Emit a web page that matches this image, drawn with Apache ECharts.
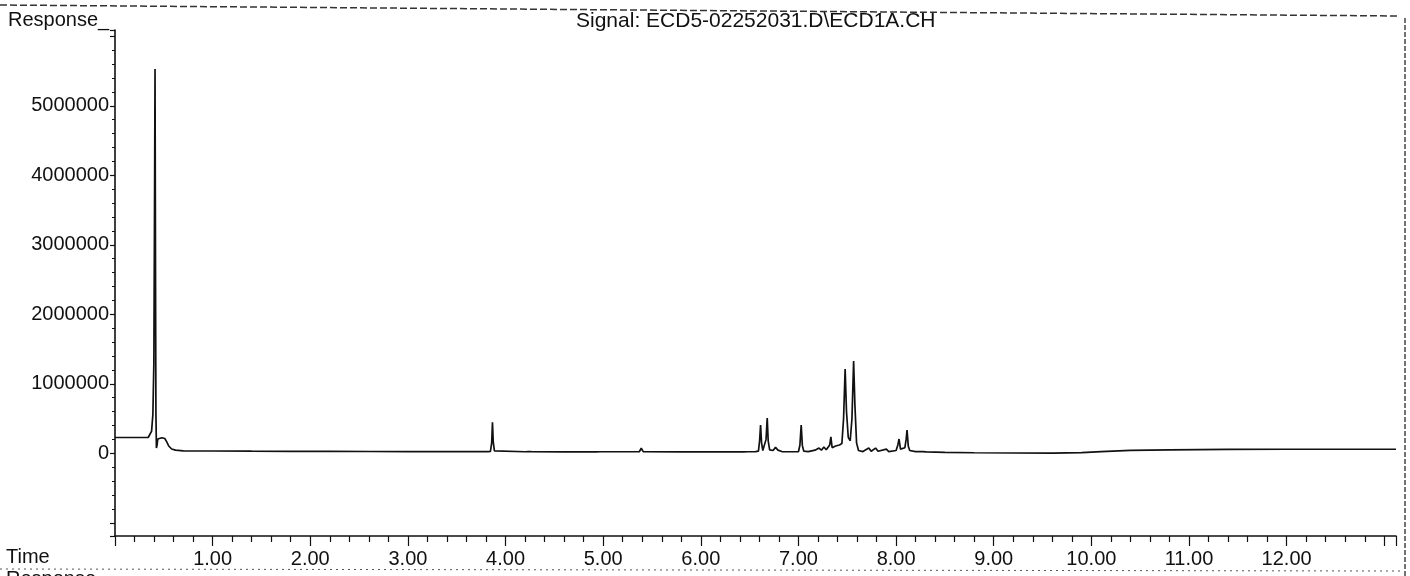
<!DOCTYPE html>
<html>
<head>
<meta charset="utf-8">
<title>ECD1A chromatogram</title>
<script src="https://cdn.jsdelivr.net/npm/echarts/dist/echarts.min.js"></script>
<style>
  html, body { margin: 0; padding: 0; background: #fff; }
  #chart { width: 1410px; height: 576px; }
</style>
</head>
<body>
<div id="chart"></div>
<script>
// retention time (min)
const traceTime = [
  0.00, 0.34, 0.36, 0.375, 0.388, 0.398, 0.404, 0.410, 0.415, 0.419,
  0.424, 0.430, 0.438, 0.450, 0.480, 0.510, 0.530, 0.550, 0.580, 0.620,
  0.700, 1.00, 1.40, 1.80, 2.20, 2.60, 3.00, 3.40, 3.82, 3.845,
  3.858, 3.866, 3.874, 3.886, 3.90, 4.20, 4.235, 4.25, 4.265, 4.60,
  4.93, 4.95, 4.97, 5.37, 5.39, 5.41, 5.80, 6.02, 6.04, 6.06,
  6.13, 6.15, 6.17, 6.44, 6.46, 6.48, 6.52, 6.54, 6.56, 6.59,
  6.602, 6.612, 6.622, 6.635, 6.655, 6.668, 6.680, 6.690, 6.705, 6.74,
  6.765, 6.79, 6.83, 7.00, 7.015, 7.028, 7.040, 7.055, 7.10, 7.12,
  7.17, 7.21, 7.235, 7.26, 7.285, 7.32, 7.332, 7.345, 7.38, 7.40,
  7.42, 7.445, 7.462, 7.478, 7.492, 7.51, 7.53, 7.548, 7.565, 7.578,
  7.595, 7.615, 7.66, 7.72, 7.745, 7.79, 7.815, 7.90, 7.925, 8.00,
  8.018, 8.030, 8.045, 8.09, 8.103, 8.112, 8.125, 8.14, 8.20, 8.27,
  8.29, 8.31, 8.50, 8.80, 9.20, 9.60, 9.90, 10.10, 10.40, 10.80,
  11.40, 12.00, 12.60, 13.12
];
// detector response
const traceResponse = [
  227000, 227000, 235000, 320000, 560000, 1300000, 3200000, 5530000, 2600000, 600000,
  75000, 110000, 205000, 222000, 224000, 212000, 165000, 105000, 62000, 45000,
  36000, 33000, 30000, 28000, 27000, 26000, 25000, 24000, 23000, 28000,
  150000, 447000, 160000, 35000, 23000, 22000, 24000, 35000, 23000, 21000,
  21000, 45000, 22000, 22000, 72000, 23000, 20000, 20000, 32000, 21000,
  20000, 28000, 20000, 20000, 36000, 22000, 22000, 38000, 24000, 30000,
  180000, 407000, 150000, 40000, 35000, 200000, 508000, 180000, 50000, 40000,
  85000, 45000, 25000, 22000, 120000, 407000, 110000, 30000, 25000, 40000,
  45000, 75000, 45000, 90000, 50000, 120000, 235000, 80000, 105000, 90000,
  120000, 140000, 500000, 1213000, 600000, 230000, 180000, 500000, 1328000, 700000,
  150000, 40000, 25000, 75000, 30000, 75000, 30000, 60000, 25000, 40000,
  120000, 205000, 60000, 80000, 200000, 335000, 100000, 40000, 25000, 25000,
  45000, 20000, 12000, 8000, 4000, 3000, 10000, 25000, 42000, 50000,
  55000, 58000, 58000, 58000
];
// labelled ticks
const timeLabels = [1, 2, 3, 4, 5, 6, 7, 8, 9, 10, 11, 12];
const responseLabels = [0, 1000000, 2000000, 3000000, 4000000, 5000000];

const ink = "#111";
const font = "Liberation Sans";

const chart = echarts.init(document.getElementById("chart"));

const textStyle = {
  color: ink,
  fontFamily: font,
  fontSize: 20,
  fontWeight: "normal",
};

const options = {
  animation: false,
  title: [
    { text: "Response_", left: 8, top: 10, padding: 0, textStyle: textStyle },
    { text: "Signal: ECD5-02252031.D\\ECD1A.CH", left: 576, top: 11, padding: 0, textStyle: { ...textStyle, fontSize: 21 } },
    { text: "Time", left: 6, top: 547, padding: 0, textStyle: textStyle },
    { text: "Response", left: 6, top: 569, padding: 0, textStyle: textStyle },
  ],
  grid: {
    left: 115,
    right: 14,
    top: 30,
    bottom: 40,
  },
  xAxis: {
    type: "value",
    min: 0,
    max: 13.12,
    interval: 1,
    axisLine: { onZero: false, lineStyle: { color: ink, width: 1.6 } },
    axisTick: { length: 10, lineStyle: { color: ink, width: 1.2 } },
    minorTick: { show: true, splitNumber: 5, length: 6, lineStyle: { color: ink, width: 1.2 } },
    splitLine: { show: false },
    axisLabel: {
      margin: 13,
      color: ink,
      fontFamily: font,
      fontSize: 20,
      formatter: (v) => (timeLabels.includes(Math.round(v * 100) / 100) ? v.toFixed(2) : ""),
    },
  },
  yAxis: {
    type: "value",
    min: -1190000,
    max: 6090000,
    axisLine: { show: true, onZero: false, lineStyle: { color: ink, width: 1.6 } },
    axisTick: { show: true, length: 5, lineStyle: { color: ink, width: 1.2 } },
    minorTick: { show: true, splitNumber: 5, length: 3, lineStyle: { color: ink, width: 1 } },
    splitLine: { show: false },
    axisLabel: {
      margin: 6,
      color: ink,
      fontFamily: font,
      fontSize: 20,
      formatter: (v) => (responseLabels.includes(Math.round(v)) ? String(Math.round(v)) : ""),
    },
  },
  series: [
    {
      type: "line",
      data: traceTime.map((t, i) => [t, traceResponse[i]]),
      symbol: "none",
      sampling: false,
      lineStyle: { color: ink, width: 1.7 },
    },
  ],
  // scanned page border
  graphic: [
    {
      type: "polyline",
      silent: true,
      shape: { points: [[0, 5], [1398, 16]] },
      style: { stroke: "#333", lineWidth: 1.5, lineDash: [7, 3] },
    },
    {
      type: "polyline",
      silent: true,
      shape: { points: [[1405, 18], [1405, 576]] },
      style: { stroke: "#444", lineWidth: 1.5, lineDash: [5, 2] },
    },
    {
      type: "polyline",
      silent: true,
      shape: { points: [[0, 569], [1400, 571]] },
      style: { stroke: "#555", lineWidth: 1, lineDash: [2, 4] },
    },
  ],
};

chart.setOption(options);
</script>
</body>
</html>
